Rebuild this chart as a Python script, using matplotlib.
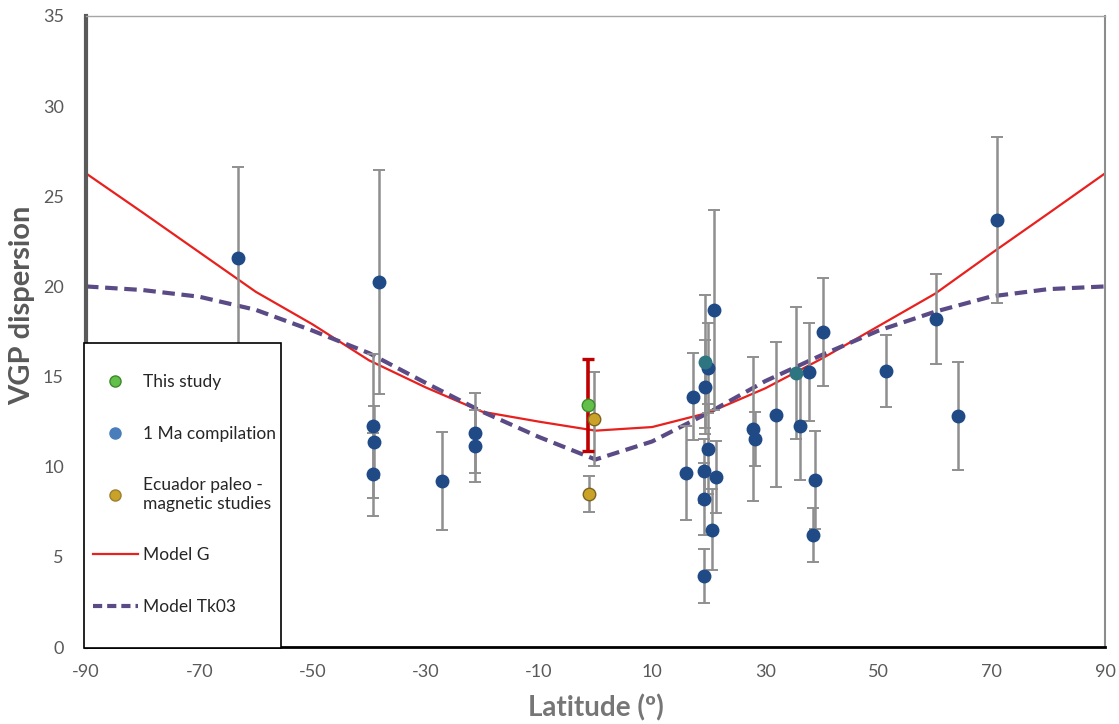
import numpy as np
import matplotlib
matplotlib.use("Agg")
import matplotlib.pyplot as plt
from matplotlib.lines import Line2D
from matplotlib.patches import Rectangle

plt.rcParams["axes.unicode_minus"] = False

# -----------------------------
# DATA
# -----------------------------

# model curves (latitude grid, VGP dispersion)
model_lat = [-90, -80, -70, -60, -50, -40, -30, -20, -10, 0,
             10, 20, 30, 40, 50, 60, 70, 80, 90]
model_g = [26.27, 24.1, 21.9, 19.7, 17.9, 15.9, 14.4, 13.05, 12.5, 12.0,
           12.2, 13.0, 14.35, 16.0, 17.8, 19.6, 21.85, 24.05, 26.27]
model_tk03 = [20.0, 19.8, 19.43, 18.7, 17.55, 16.3, 14.65, 13.05, 11.65, 10.4,
              11.4, 13.0, 14.75, 16.2, 17.55, 18.6, 19.45, 19.85, 20.0]

# this study
study_lat = [-1.3]
study_vgp = [13.42]
study_err = [2.55]

# Ecuador paleomagnetic studies
ecu_lat = [-0.2, -1.1]
ecu_vgp = [12.65, 8.49]
ecu_err = [2.6, 1.0]

# 1 Ma compilation
comp_lat = [-63.2, -38.2, -39.3, -39.1, -39.3, -27.1, -21.3, -21.3,
            17.2, 16.0, 19.9, 19.35, 19.9, 19.2, 21.2, 19.2, 20.6, 19.2, 21.0,
            27.8, 28.2, 31.8, 37.7, 36.1, 40.2, 38.8, 38.5,
            51.3, 60.2, 64.1, 71.0]
comp_vgp = [21.58, 20.24, 12.26, 11.39, 9.58, 9.21, 11.87, 11.15,
            13.88, 9.67, 15.49, 14.44, 10.96, 9.76, 9.45, 8.19, 6.51, 3.94, 18.69,
            12.09, 11.52, 12.89, 15.25, 12.27, 17.45, 9.26, 6.23,
            15.31, 18.19, 12.83, 23.68]
comp_err = [5.06, 6.2, 4.0, 2.0, 2.3, 2.7, 2.2, 2.0,
            2.4, 2.6, 2.5, 2.6, 2.5, 1.8, 2.0, 2.0, 2.25, 1.5, 5.55,
            4.0, 1.5, 4.0, 2.7, 3.0, 3.0, 2.7, 1.5,
            2.0, 2.5, 3.0, 4.6]

# compilation sites drawn in teal
teal_lat = [19.35, 35.5]
teal_vgp = [15.82, 15.21]
teal_err = [3.7, 3.66]

x_ticks = [-90, -70, -50, -30, -10, 10, 30, 50, 70, 90]
y_ticks = [0, 5, 10, 15, 20, 25, 30, 35]

# -----------------------------
# FIGURE
# -----------------------------

W, H = 1119, 724
fig = plt.figure(figsize=(W / 100, H / 100), dpi=100)
ax = fig.add_axes([86 / W, 1 - 647 / H, (1105 - 86) / W, (647 - 16) / H])

font = "Lato"
grey_txt = "#595959"
err_grey = "#8f8f8f"

# model curves
ax.plot(model_lat, model_g, color="#e8201e", linewidth=1.6, zorder=2)
ax.plot(model_lat, model_tk03, color="#5a4a86", linewidth=3.0,
        dashes=(3, 1.6), zorder=2)

# compilation
ax.errorbar(comp_lat, comp_vgp, yerr=comp_err, fmt="o",
            color="#1f4a86", markersize=9, markeredgecolor="#1f4a86",
            ecolor=err_grey, elinewidth=1.8, capsize=4, capthick=1.4,
            zorder=3)
ax.errorbar(teal_lat, teal_vgp, yerr=teal_err, fmt="o",
            color="#2d7580", markersize=9, markeredgecolor="#2d7580",
            ecolor=err_grey, elinewidth=1.8, capsize=4, capthick=1.4,
            zorder=3)

# Ecuador
ax.errorbar(ecu_lat, ecu_vgp, yerr=ecu_err, fmt="o",
            color="#c9a227", markeredgecolor="#7a6420", markersize=9,
            ecolor=err_grey, elinewidth=1.8,
            capsize=4, capthick=1.4, zorder=4)

# this study
ax.errorbar(study_lat, study_vgp, yerr=study_err, fmt="o",
            color="#62c04a", markeredgecolor="#3a8a2a", markersize=9,
            ecolor="#c00000", elinewidth=2.6,
            capsize=4, capthick=2.4, zorder=4)

# -----------------------------
# AXES
# -----------------------------

ax.set_xlim(-90, 90)
ax.set_ylim(0, 35)
ax.set_xticks(x_ticks)
ax.set_yticks(y_ticks)
ax.tick_params(length=0, labelsize=13, colors=grey_txt)
ax.tick_params(axis="y", pad=16)
ax.tick_params(axis="x", pad=12)
for lab in ax.get_xticklabels() + ax.get_yticklabels():
    lab.set_fontfamily(font)

ax.spines["left"].set_color("#5a5a5a")
ax.spines["left"].set_linewidth(3)
ax.spines["top"].set_color("#a6a6a6")
ax.spines["top"].set_linewidth(1)
ax.spines["right"].set_color("#8c8c8c")
ax.spines["right"].set_linewidth(1.5)
ax.spines["bottom"].set_color("black")
ax.spines["bottom"].set_linewidth(2)

# axis titles placed in figure pixels
fig.text(596 / W, 1 - 708 / H, "Latitude (º)", fontsize=20, fontweight="bold",
         color="#767676", family=font, ha="center", va="center")
fig.text(22 / W, 1 - 305 / H, "VGP dispersion", fontsize=21, fontweight="bold",
         color=grey_txt, family=font, ha="center", va="center", rotation=90)

# -----------------------------
# LEGEND
# -----------------------------

box = Rectangle((84 / W, 1 - 648 / H), 197 / W, 305 / H,
                transform=fig.transFigure, facecolor="white",
                edgecolor="black", linewidth=1.2, zorder=5)
fig.patches.append(box)

handles = [
    Line2D([], [], linestyle="none", marker="o", markersize=8,
           color="#62c04a", markeredgecolor="#3a8a2a"),
    Line2D([], [], linestyle="none", marker="o", markersize=8,
           color="#4a7ebb", markeredgecolor="#4a7ebb"),
    Line2D([], [], linestyle="none", marker="o", markersize=8,
           color="#c9a227", markeredgecolor="#9a8030"),
    Line2D([], [], color="#e8201e", linewidth=1.6),
    Line2D([], [], color="#5a4a86", linewidth=3.0, dashes=(2.2, 1.2)),
]
labels = ["This study", "1 Ma compilation", "Ecuador paleo -\nmagnetic studies",
          "Model G", "Model Tk03"]

leg = fig.legend(handles, labels, loc="center",
                 bbox_to_anchor=((84 + 197 / 2 + 2) / W, 1 - (343 + 305 / 2 - 1) / H),
                 frameon=False, prop={"family": font, "size": 12.5},
                 labelspacing=2.05, handlelength=2.6, handletextpad=0.3)
leg.set_zorder(6)
for t in leg.get_texts():
    t.set_color("#262626")

plt.savefig("out.png", dpi=100)
